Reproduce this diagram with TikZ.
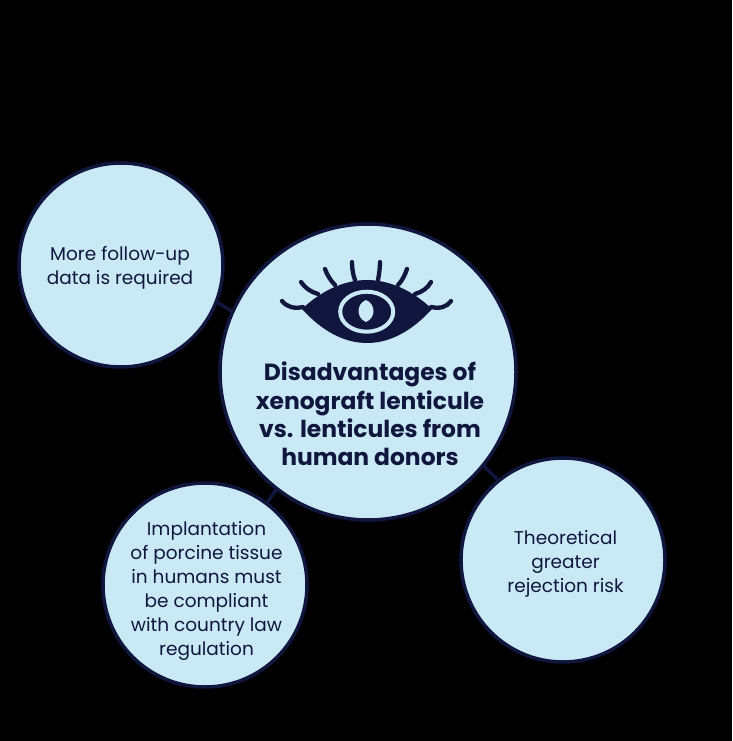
\documentclass[tikz,border=0pt]{standalone}
\usepackage{fontspec}
\setmainfont{Poppins}
\definecolor{navy}{HTML}{11163F}
\definecolor{pale}{HTML}{C9E9F5}
\tikzset{
  bubble/.style={circle,draw=navy,fill=pale,line width=3.5pt,inner sep=0pt,outer sep=0pt},
  caption/.style={align=center,text=navy,inner sep=0pt,font=\fontsize{18.5}{24}\selectfont},
  link/.style={draw=navy,line width=3.5pt},
  lash/.style={draw=navy,line width=4.3pt,line cap=round},
}
\begin{document}
\begin{tikzpicture}[x=1pt,y=-1pt]
\useasboundingbox[fill=black] (0,0) rectangle (732,741);
\node[bubble,minimum size=204pt] (left) at (121,265) {};
\node[bubble,minimum size=204pt] (bottom) at (205,585) {};
\node[bubble,minimum size=204pt] (right) at (563,560) {};
\node[bubble,minimum size=296pt] (main) at (368,372) {};
\node[caption] (leftText) at (120,268) {More follow-up\\data is required};
\node[caption] (bottomText) at (206.5,590.5) {Implantation\\of porcine tissue\\in humans must\\be compliant\\with country law\\regulation};
\node[caption] (rightText) at (565.5,564) {Theoretical\\greater\\rejection risk};
\node[align=center,text=navy,font=\fontsize{23.4}{28.2}\selectfont\bfseries,inner sep=0pt] (title) at (370,414) {Disadvantages of\\xenograft lenticule\\vs. lenticules from\\human donors};
\draw[link] (main.156) -- (left.-21);
\draw[link] (main.-128) -- (bottom.53);
\draw[link] (main.-39) -- (right.129);
% eye
\fill[navy] (302,309) .. controls (322,290) and (345,280) .. (367,280) .. controls (389,280) and (412,290) .. (432,309) .. controls (412,331) and (390,343) .. (367,343) .. controls (344,343) and (322,331) .. (302,309) -- cycle;
\draw[draw=pale,line width=4pt] (366.7,311.7) ellipse [x radius=26.5, y radius=20];
\fill[pale] (366,300) .. controls (376,304) and (376,318) .. (366,322) .. controls (356,318) and (356,304) .. (366,300) -- cycle;
\draw[lash] (303,307) .. controls (294,309) and (287,307) .. (282,301);
\draw[lash] (318,294) .. controls (311,292) and (305,288) .. (301,282);
\draw[lash] (335,285) .. controls (331,281) and (327,275) .. (325,269);
\draw[lash] (355,280) .. controls (353,275) and (352,268) .. (352,262);
\draw[lash] (378,280) .. controls (379,275) and (380,268) .. (380,262);
\draw[lash] (398,285) .. controls (402,281) and (405,275) .. (407,269);
\draw[lash] (415,294) .. controls (422,292) and (428,288) .. (431,282);
\draw[lash] (431,307) .. controls (440,309) and (447,307) .. (451,301);
\end{tikzpicture}
\end{document}
